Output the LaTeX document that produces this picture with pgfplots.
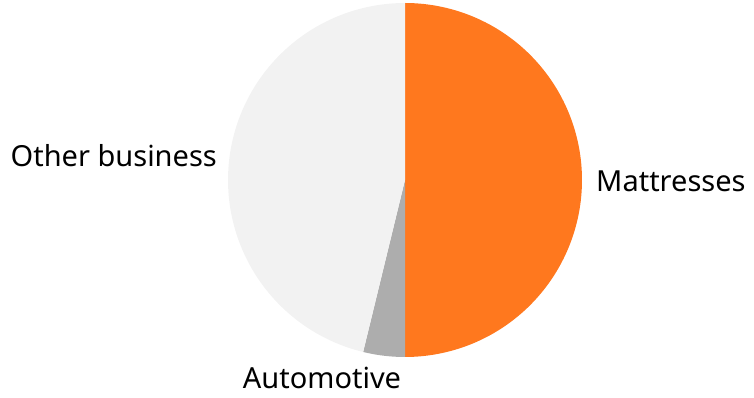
\documentclass[border=0pt]{standalone}
\usepackage{pgfplots}
\usepackage{pgfplotstable}
\pgfplotsset{compat=1.18}
\usepackage{fontspec}
\setmainfont{Noto Sans}
\definecolor{cMat}{HTML}{FF781E}
\definecolor{cAuto}{HTML}{ADADAD}
\definecolor{cOther}{HTML}{F2F2F2}
\pgfplotstableread{
label share
Mattresses 50.0
Automotive 3.8
Other 46.2
}\piedata
\begin{document}
\begin{tikzpicture}
\useasboundingbox (0pt,0pt) rectangle (754pt,398pt);
\pgfplotstablegetelem{0}{share}\of\piedata \let\sA\pgfplotsretval
\pgfplotstablegetelem{1}{share}\of\piedata \let\sB\pgfplotsretval
\pgfplotstablegetelem{2}{share}\of\piedata \let\sC\pgfplotsretval
\pgfmathsetmacro{\aZero}{90}
\pgfmathsetmacro{\aOne}{90-3.6*\sA}
\pgfmathsetmacro{\aTwo}{\aOne-3.6*\sB}
\pgfmathsetmacro{\aThree}{\aTwo-3.6*\sC}
\begin{axis}[
  at={(405pt,218pt)}, anchor=center,
  scale only axis, width=354pt, height=354pt,
  xmin=-1, xmax=1, ymin=-1, ymax=1,
  hide axis, clip=false]
\addplot[fill=cMat, draw=none, domain=\aZero:\aOne, samples=120, variable=\t] ({cos(\t)},{sin(\t)}) -- (axis cs:0,0) -- cycle;
\addplot[fill=cAuto, draw=none, domain=\aOne:\aTwo, samples=30, variable=\t] ({cos(\t)},{sin(\t)}) -- (axis cs:0,0) -- cycle;
\addplot[fill=cOther, draw=none, domain=\aTwo:\aThree, samples=120, variable=\t] ({cos(\t)},{sin(\t)}) -- (axis cs:0,0) -- cycle;
\end{axis}
\node[anchor=base east, inner sep=0pt, font=\fontsize{29}{34}\selectfont] at (217pt,231pt) {Other business};
\node[anchor=base west, inner sep=0pt, font=\fontsize{29}{34}\selectfont] at (596pt,206pt) {Mattresses};
\node[anchor=base, inner sep=0pt, font=\fontsize{29}{34}\selectfont] at (322pt,9pt) {Automotive};
\end{tikzpicture}
\end{document}
